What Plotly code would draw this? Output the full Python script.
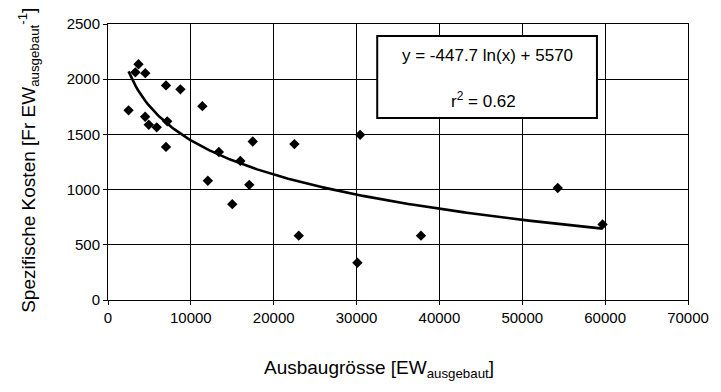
import numpy as np
import plotly.graph_objects as go

# Data
ausbau = [2480, 3300, 3680, 4500, 4480, 4920, 5880, 7000, 7150, 7000, 8740,
          11390, 12050, 13380, 15000, 15970, 17050, 17470, 22500, 23020,
          30100, 30430, 37770, 54280, 59690]
kosten = [1718, 2062, 2135, 2055, 1660, 1588, 1564, 1944, 1618, 1387, 1908,
          1756, 1080, 1340, 868, 1260, 1043, 1436, 1412, 583,
          338, 1496, 583, 1015, 685]

# Trend line coefficients shown in the chart
coef_a = -447.7
coef_b = 5570
trend_label = "y = -447.7 ln(x) + 5570"
r2_label = "r<sup>2</sup> = 0.62"

x_ticks = [0, 10000, 20000, 30000, 40000, 50000, 60000, 70000]
y_ticks = [0, 500, 1000, 1500, 2000, 2500]

x_title = "Ausbaugrösse [EW<sub>ausgebaut</sub>]"
y_title = "Spezifische Kosten [Fr EW<sub>ausgebaut</sub><sup>-1</sup>]"

xt = np.linspace(min(ausbau), max(ausbau), 200)
yt = coef_a * np.log(xt) + coef_b

font = "Liberation Sans, Arial, Helvetica, sans-serif"

L, R, T, B = 108, 694, 24, 300
W, H = R - L, B - T

def px(xp):
    return (xp - L) / W

def py(yp):
    return (B - yp) / H

fig = go.Figure()
fig.add_trace(go.Scatter(x=xt, y=yt, mode="lines",
                         line=dict(color="black", width=2.6),
                         showlegend=False, hoverinfo="skip"))
fig.add_trace(go.Scatter(x=ausbau, y=kosten, mode="markers",
                         marker=dict(symbol="diamond", size=8, color="black"),
                         showlegend=False))

fig.update_layout(
    width=721, height=392,
    margin=dict(l=L, r=721 - R, t=T, b=392 - B),
    paper_bgcolor="white", plot_bgcolor="white",
    font=dict(family=font, color="black", size=15),
    xaxis=dict(range=[0, 70000], tickvals=x_ticks,
               ticktext=[str(v) for v in x_ticks],
               showgrid=True, gridcolor="black", gridwidth=1,
               zeroline=False, showline=True, linecolor="black", linewidth=1,
               mirror=True, ticks="outside", ticklen=4, tickcolor="black",
               tickfont=dict(size=15)),
    yaxis=dict(range=[0, 2500], tickvals=y_ticks,
               ticktext=[str(v) for v in y_ticks],
               showgrid=True, gridcolor="black", gridwidth=1,
               zeroline=False, showline=True, linecolor="black", linewidth=1,
               mirror=True, ticks="outside", ticklen=4, tickcolor="black",
               tickfont=dict(size=15)),
)

# Axis titles
fig.add_annotation(xref="paper", yref="paper", x=px(382), y=py(369),
                   text=x_title, showarrow=False, font=dict(size=19),
                   xanchor="center", yanchor="middle")
fig.add_annotation(xref="paper", yref="paper", x=px(27), y=py(160),
                   text=y_title, showarrow=False, font=dict(size=19),
                   textangle=-90, xanchor="center", yanchor="middle")

# Equation box
fig.add_shape(type="rect", xref="paper", yref="paper",
              x0=px(380), x1=px(602), y0=py(118), y1=py(36),
              line=dict(color="black", width=2), fillcolor="white", layer="above")
fig.add_annotation(xref="paper", yref="paper", x=px(491), y=py(56),
                   text=trend_label, showarrow=False, font=dict(size=17),
                   xanchor="center", yanchor="middle")
fig.add_annotation(xref="paper", yref="paper", x=px(487), y=py(100),
                   text=r2_label, showarrow=False, font=dict(size=17),
                   xanchor="center", yanchor="middle")

fig.write_html("out.html")
